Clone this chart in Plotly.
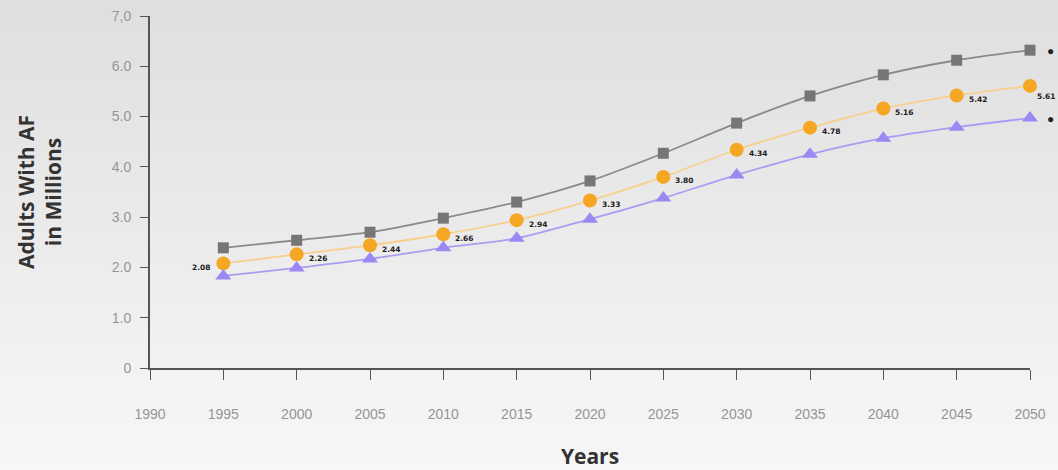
import plotly.graph_objects as go

# Projected number of adults with atrial fibrillation (millions)
years = [1995, 2000, 2005, 2010, 2015, 2020, 2025, 2030, 2035, 2040, 2045, 2050]
upper = [2.39, 2.54, 2.70, 2.98, 3.30, 3.72, 4.27, 4.87, 5.41, 5.83, 6.12, 6.32]
central = [2.08, 2.26, 2.44, 2.66, 2.94, 3.33, 3.80, 4.34, 4.78, 5.16, 5.42, 5.61]
lower = [1.83, 1.99, 2.17, 2.39, 2.58, 2.96, 3.38, 3.84, 4.25, 4.57, 4.79, 4.97]

x_ticks = list(range(1990, 2051, 5))
y_ticks = [0, 1, 2, 3, 4, 5, 6, 7]
y_tick_text = ["0", "1.0", "2.0", "3.0", "4.0", "5.0", "6.0", "7,0"]

W, H = 1058, 470
fig = go.Figure()

# soft vertical background gradient (darker at top)
n_bands = 40
top_c, bot_c = (222, 222, 222), (247, 247, 247)
for i in range(n_bands):
    t = i / (n_bands - 1)
    c = tuple(round(top_c[k] + (bot_c[k] - top_c[k]) * t) for k in range(3))
    fig.add_shape(type="rect", xref="paper", yref="paper",
                  x0=-0.2, x1=1.2,
                  y0=1.1 - (i + 1) * 1.4 / n_bands, y1=1.1 - i * 1.4 / n_bands + 0.002,
                  fillcolor=f"rgb{c}", line_width=0, layer="below")

fig.add_trace(go.Scatter(
    x=years, y=upper, mode="lines+markers",
    line=dict(color="#8a8a8a", width=1.8, shape="spline", smoothing=0.8),
    marker=dict(symbol="square", size=11, color="#767676"),
    cliponaxis=False, showlegend=False))

fig.add_trace(go.Scatter(
    x=years, y=central, mode="lines+markers",
    line=dict(color="#f6d08c", width=1.8, shape="spline", smoothing=0.8),
    marker=dict(symbol="circle", size=14, color="#f5a623"),
    cliponaxis=False, showlegend=False))

fig.add_trace(go.Scatter(
    x=years, y=lower, mode="lines+markers",
    line=dict(color="#ab9cf2", width=1.8, shape="spline", smoothing=0.8),
    marker=dict(symbol="triangle-up", size=14, color="#9d88f3"),
    cliponaxis=False, showlegend=False))

# value labels on the central projection
label_font = dict(family="DejaVu Sans", size=7.5, color="#1a1a1a")
last = len(central) - 1
for i, (yr, v) in enumerate(zip(years, central)):
    if i == 0:
        xa, dx, dy = "right", -10, -4
    elif i == last:
        xa, dx, dy = "left", 5, -11
    else:
        xa, dx, dy = "left", 10, -4
    fig.add_annotation(x=yr, y=v, text=f"<b>{v:.2f}</b>", showarrow=False,
                       xanchor=xa, xshift=dx, yshift=dy, font=label_font)

# series bullets just beyond the last year
for v in (upper[-1], lower[-1]):
    fig.add_annotation(x=years[-1], y=v, text="●", showarrow=False,
                       xshift=20, font=dict(size=12, color="#222222"))

axis_font = dict(family="Liberation Sans", size=14, color="#959595")
title_font = dict(family="Open Sans, Liberation Sans", size=21, color="#333333")

fig.update_layout(
    width=W, height=H,
    margin=dict(l=150, r=28, t=16, b=102),
    paper_bgcolor="#eeeeee", plot_bgcolor="rgba(0,0,0,0)",
    xaxis=dict(range=[1990, 2050], tickvals=x_ticks, showgrid=False, zeroline=False,
               showline=True, linecolor="#555555", linewidth=2,
               ticks="outside", ticklen=10, tickcolor="#555555", tickwidth=1,
               tickfont=axis_font, ticklabelstandoff=22, automargin=False,
               title=dict(text="<b>Years</b>", font=title_font, standoff=30)),
    yaxis=dict(range=[0, 7], tickvals=y_ticks, ticktext=y_tick_text, showgrid=False,
               zeroline=False, showline=True, linecolor="#555555", linewidth=2,
               ticks="outside", ticklen=8, tickcolor="#555555", tickwidth=1,
               tickfont=axis_font, ticklabelstandoff=6, automargin=False,
               title=dict(text="<b>Adults With AF<br>in Millions</b>", font=title_font, standoff=44)),
)

fig.write_html("out.html")
